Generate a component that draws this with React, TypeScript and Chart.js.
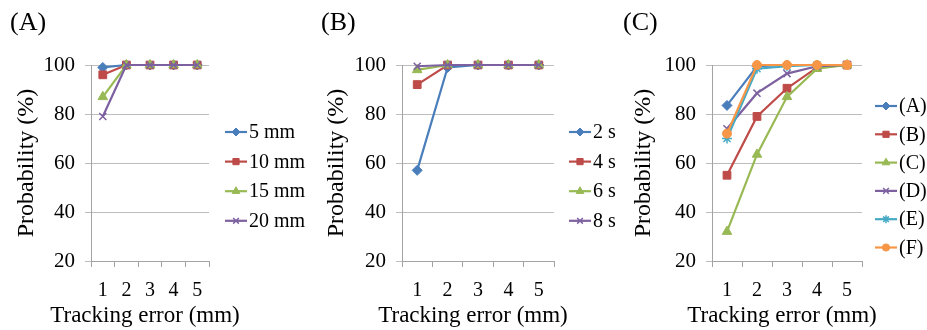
import React, { useEffect, useRef } from 'react';
import { Chart, registerables } from 'chart.js';
import { drawPoint } from 'chart.js/helpers';

Chart.register(...registerables);

// ---------- data ----------
const xLabels = ['1', '2', '3', '4', '5'];
const yMin = 20;
const yMax = 100;
const yStep = 20;

const namesA = ['5 mm', '10 mm', '15 mm', '20 mm'];
const a5mm = [99, 100, 100, 100, 100];
const a10mm = [96, 100, 100, 100, 100];
const a15mm = [87, 100, 100, 100, 100];
const a20mm = [79, 100, 100, 100, 100];

const namesB = ['2 s', '4 s', '6 s', '8 s'];
const b2s = [57, 99, 100, 100, 100];
const b4s = [92, 100, 100, 100, 100];
const b6s = [98, 100, 100, 100, 100];
const b8s = [99.5, 100, 100, 100, 100];

const namesC = ['(A)', '(B)', '(C)', '(D)', '(E)', '(F)'];
const cA = [83.5, 99.5, 100, 100, 100];
const cB = [55, 79, 90.5, 99, 100];
const cC = [32, 63.5, 87, 98.5, 100];
const cD = [74, 88.5, 96.5, 99.5, 100];
const cE = [70, 98.5, 99.5, 100, 100];
const cF = [72, 100, 100, 100, 100];

const xTitle = 'Tracking error (mm)';
const yTitle = 'Probability (%)';

// ---------- styles ----------
const colors = ['#4A7EBB', '#BE4B48', '#98B954', '#7D60A0', '#46AAC5', '#F79646'];
const markers = ['rectRot', 'rect', 'triangle', 'crossRot', 'star', 'circle'];
const markerRadius = [5, 5.5, 5.5, 5, 5, 4.5];
const FONT = "'Liberation Serif', 'Times New Roman', serif";
const GRID = '#bdbdbd';
const AXIS = '#a3a3a3';

type PanelProps = {
  names: string[];
  series: number[][];
  left: number;
  width: number;
  axisWidth: number;
  padRight: number;
  legendX: number;
  legendY: number;
  legendStep: number;
  label: string;
  labelX: number;
};

function Panel(p: PanelProps) {
  const ref = useRef<HTMLCanvasElement>(null);
  useEffect(() => {
    if (!ref.current) return;
    const n = p.series.length;
    const legendPlugin = {
      id: 'seriesLegend' + p.label,
      afterDraw(chart: any) {
        const ctx = chart.ctx as CanvasRenderingContext2D;
        const len = 22;
        chart.data.datasets.forEach((ds: any, i: number) => {
          const y = p.legendY + i * p.legendStep;
          ctx.save();
          ctx.strokeStyle = ds.borderColor;
          ctx.lineWidth = 2.2;
          ctx.beginPath();
          ctx.moveTo(p.legendX, y);
          ctx.lineTo(p.legendX + len, y);
          ctx.stroke();
          ctx.fillStyle = ds.pointBackgroundColor;
          ctx.strokeStyle = ds.pointBorderColor;
          ctx.lineWidth = ds.pointBorderWidth;
          drawPoint(
            ctx,
            { pointStyle: ds.pointStyle, radius: ds.pointRadius * 0.8, rotation: 0, borderWidth: ds.pointBorderWidth } as any,
            p.legendX + len / 2,
            y
          );
          ctx.fillStyle = '#000';
          ctx.font = `20px ${FONT}`;
          ctx.textAlign = 'left';
          ctx.textBaseline = 'middle';
          ctx.fillText(ds.label, p.legendX + len + 2, y + 1);
          ctx.restore();
        });
        // x-axis title
        const ca = chart.chartArea;
        ctx.save();
        ctx.fillStyle = '#000';
        ctx.font = `23px ${FONT}`;
        ctx.textAlign = 'center';
        ctx.textBaseline = 'middle';
        ctx.fillText(xTitle, (ca.left + ca.right) / 2 - 5, 316);
        ctx.restore();
      },
    };
    const chart = new Chart(ref.current, {
      type: 'line',
      data: {
        labels: xLabels,
        datasets: p.series.map((d, i) => ({
          label: p.names[i],
          data: d,
          borderColor: colors[i],
          backgroundColor: colors[i],
          pointBackgroundColor: colors[i],
          pointBorderColor: colors[i],
          pointStyle: markers[i] as any,
          pointRadius: markerRadius[i],
          pointBorderWidth: markers[i] === 'crossRot' || markers[i] === 'star' ? 1.5 : 1,
          borderWidth: 2.2,
          tension: 0,
          clip: false as any,
          order: n - i,
        })),
      },
      options: {
        animation: false,
        responsive: false,
        maintainAspectRatio: false,
        events: [],
        layout: { padding: { top: 65, right: p.padRight, left: 0, bottom: 0 } },
        plugins: { legend: { display: false }, tooltip: { enabled: false } },
        scales: {
          x: {
            type: 'category',
            offset: true,
            grid: { offset: true, drawOnChartArea: false, drawTicks: true, tickLength: 6, color: AXIS },
            border: { display: true, color: AXIS, width: 1 },
            ticks: { color: '#000', font: { family: FONT, size: 20 }, padding: 12, maxRotation: 0 },
            title: { display: false },
            afterFit: (s: any) => { s.height = 69; },
          },
          y: {
            min: yMin,
            max: yMax,
            ticks: { stepSize: yStep, color: '#000', font: { family: FONT, size: 21 }, padding: 10 },
            grid: { color: GRID, tickLength: 6, drawTicks: true },
            border: { display: true, color: AXIS, width: 1 },
            title: { display: true, text: yTitle, color: '#000', font: { family: FONT, size: 24 }, padding: { top: 12, bottom: 0 } },
            afterFit: (s: any) => { s.width = p.axisWidth; },
          },
        },
      },
      plugins: [legendPlugin],
    });
    return () => chart.destroy();
  }, []);
  return (
    <div style={{ position: 'absolute', left: p.left, top: 0, width: p.width, height: 330 }}>
      <canvas ref={ref} width={p.width} height={330} style={{ width: p.width, height: 330, display: 'block' }} />
      <div
        style={{
          position: 'absolute',
          left: p.labelX,
          top: 8,
          fontFamily: FONT,
          fontSize: 26,
          lineHeight: '28px',
          color: '#000',
        }}
      >
        {p.label}
      </div>
    </div>
  );
}

export default function App() {
  return (
    <div style={{ position: 'absolute', left: 0, top: 0, width: 927, height: 330, background: '#fff', overflow: 'hidden' }}>
      <Panel
        names={namesA}
        series={[a5mm, a10mm, a15mm, a20mm]}
        left={0}
        width={310}
        axisWidth={91}
        padRight={101}
        legendX={225}
        legendY={132}
        legendStep={29.6}
        label="(A)"
        labelX={10}
      />
      <Panel
        names={namesB}
        series={[b2s, b4s, b6s, b8s]}
        left={310}
        width={307}
        axisWidth={92}
        padRight={63}
        legendX={259}
        legendY={132}
        legendStep={29.6}
        label="(B)"
        labelX={11}
      />
      <Panel
        names={namesC}
        series={[cA, cB, cC, cD, cE, cF]}
        left={617}
        width={310}
        axisWidth={95}
        padRight={65}
        legendX={258}
        legendY={106}
        legendStep={28.3}
        label="(C)"
        labelX={6}
      />
    </div>
  );
}
